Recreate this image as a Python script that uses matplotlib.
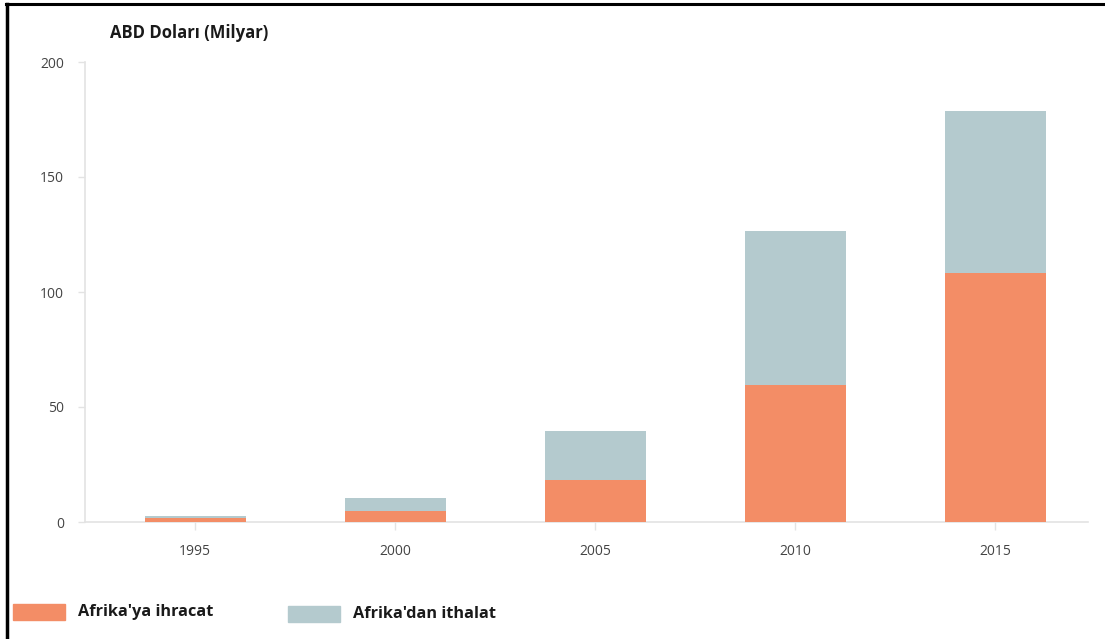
import matplotlib
matplotlib.use("Agg")
import matplotlib.pyplot as plt
from matplotlib.patches import Rectangle
from matplotlib.lines import Line2D

years = ["1995", "2000", "2005", "2010", "2015"]
exports = [1.7, 4.8, 18.3, 59.6, 108.3]
imports = [0.8, 5.6, 21.3, 66.9, 70.4]
yticks = [0, 50, 100, 150, 200]
series_names = ["Afrika'ya ihracat", "Afrika'dan ithalat"]
ylabel = "ABD Doları (Milyar)"

c_exp = "#F38D66"
c_imp = "#B4CACE"
W, H = 1105, 639

plt.rcParams['font.family'] = ['Open Sans', 'DejaVu Sans']
fig = plt.figure(figsize=(W / 100, H / 100), dpi=100)
ax = fig.add_axes([85 / W, 1 - 522 / H, (1088 - 85) / W, (522 - 62) / H])

x = list(range(len(years)))
ax.bar(x, exports, width=0.505, color=c_exp, zorder=3)
ax.bar(x, imports, bottom=exports, width=0.505, color=c_imp, zorder=3)

ax.set_xlim(-0.55, len(years) - 1 + 0.465)
ax.set_ylim(0, 200)
ax.set_yticks(yticks)
ax.set_xticks(x)
ax.set_xticklabels(years)
for s in ["top", "right"]:
    ax.spines[s].set_visible(False)
for s in ["left", "bottom"]:
    ax.spines[s].set_color("#e3e3e3")
    ax.spines[s].set_linewidth(1.2)
ax.tick_params(axis="y", length=5, width=1, color="#e3e3e3", labelsize=10,
               labelcolor="#444444", pad=10)
ax.tick_params(axis="x", length=6, width=1, color="#e3e3e3", labelsize=10,
               labelcolor="#444444", pad=10)

fig.text(110 / W, 1 - 33 / H, ylabel, fontsize=12, fontweight="bold",
         color="#1a1a1a", va="center", ha="left")

# legend
fig.patches.append(Rectangle((13 / W, 1 - 620 / H), 52 / W, 16 / H,
                             transform=fig.transFigure, color=c_exp))
fig.text(78 / W, 1 - 612 / H, series_names[0], fontsize=11.7, fontweight="bold",
         color="#1a1a1a", va="center", ha="left")
fig.patches.append(Rectangle((288 / W, 1 - 622 / H), 52 / W, 16 / H,
                             transform=fig.transFigure, color=c_imp))
fig.text(353 / W, 1 - 614 / H, series_names[1], fontsize=11.7, fontweight="bold",
         color="#1a1a1a", va="center", ha="left")

# outer black frame (left and top)
fig.lines.append(Line2D([6.5 / W, 6.5 / W], [0, 1 - 4 / H], transform=fig.transFigure,
                        color="black", linewidth=2.5))
fig.lines.append(Line2D([5.5 / W, 1], [1 - 4 / H, 1 - 4 / H], transform=fig.transFigure,
                        color="black", linewidth=2.2))

fig.savefig("out.png", dpi=100)
